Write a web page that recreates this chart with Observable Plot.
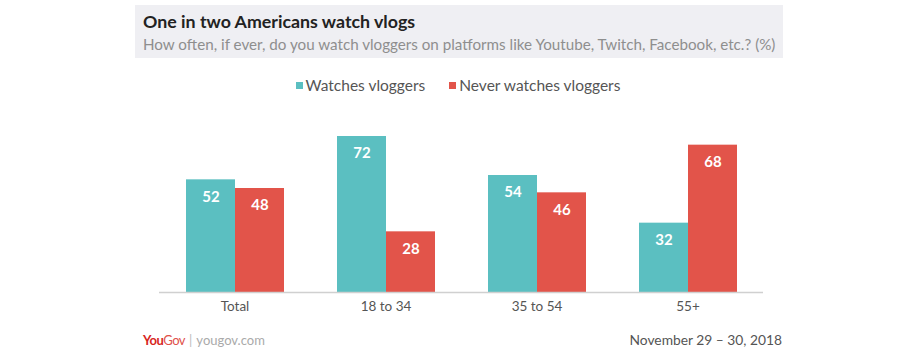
<!DOCTYPE html>
<html>
<head>
<meta charset="utf-8">
<script src="https://cdn.jsdelivr.net/npm/d3@7"></script>
<script src="https://cdn.jsdelivr.net/npm/@observablehq/plot@0.6"></script>
<style>
  html, body { margin: 0; padding: 0; background: #fff; }
  body { width: 916px; height: 356px; position: relative; overflow: hidden; font-family: Lato, "Open Sans", sans-serif; }
  #titlebox { position: absolute; left: 135px; top: 5px; width: 648px; height: 53px; background: #efeff3; }
  #title { position: absolute; left: 8px; top: 5px; font-size: 17.8px; font-weight: 700; color: #222; white-space: nowrap; }
  #subtitle { position: absolute; left: 8px; top: 30px; font-size: 15.2px; color: #8e8e8e; white-space: nowrap; }
  #legend { position: absolute; left: 0; width: 916px; top: 76px; text-align: center; font-size: 15.5px; color: #555; white-space: nowrap; }
  #legend span.item { display: inline-block; margin: 0 12px; }
  #legend span.sw { display: inline-block; width: 7px; height: 7px; margin-right: 3px; vertical-align: 2px; }
  #chart { position: absolute; left: 0; top: 90px; }
  #footer-left { position: absolute; left: 143px; top: 332px; font-size: 13px; white-space: nowrap; }
  #footer-right { position: absolute; right: 134px; top: 331px; font-size: 13.8px; color: #555; white-space: nowrap; }
</style>
</head>
<body>
<div id="titlebox">
  <div id="title">One in two Americans watch vlogs</div>
  <div id="subtitle">How often, if ever, do you watch vloggers on platforms like Youtube, Twitch, Facebook, etc.? (%)</div>
</div>
<div id="legend"></div>
<div id="chart"></div>
<div id="footer-left"><span style="color:#d7261e;font-weight:700;letter-spacing:-0.5px">You</span><span style="color:#e0514a;letter-spacing:-0.5px">Gov</span><span style="color:#bbb;margin:0 4px">|</span><span style="color:#aaa">yougov.com</span></div>
<div id="footer-right">November 29 – 30, 2018</div>
<script>
const groups = ["Total", "18 to 34", "35 to 54", "55+"];
const seriesNames = ["Watches vloggers", "Never watches vloggers"];
const watches = [52, 72, 54, 32];
const never = [48, 28, 46, 68];
const colors = ["#5bbfc1", "#e2544a"];

const data = [];
groups.forEach((g, i) => {
  data.push({group: g, series: seriesNames[0], value: watches[i]});
  data.push({group: g, series: seriesNames[1], value: never[i]});
});

const legend = document.getElementById("legend");
seriesNames.forEach((s, i) => {
  const it = document.createElement("span");
  it.className = "item";
  it.innerHTML = `<span class="sw" style="background:${colors[i]}"></span>${s}`;
  legend.appendChild(it);
});

const chart = Plot.plot({
  width: 916,
  height: 240,
  marginLeft: 158,
  marginRight: 153,
  marginTop: 46,
  marginBottom: 38,
  style: {fontFamily: "Lato, 'Open Sans', sans-serif", background: "transparent"},
  fx: {domain: groups, padding: 0, label: null, axis: "bottom", tickSize: 0, tickPadding: 9},
  x: {domain: seriesNames, paddingInner: 0, paddingOuter: 0.54, axis: null},
  y: {domain: [0, 72], axis: null},
  color: {domain: seriesNames, range: colors},
  marks: [
    Plot.barY(data, {fx: "group", x: "series", y: "value", fill: "series"}),
    Plot.ruleY([0], {stroke: "#d0d0d0", strokeWidth: 1.5}),
    Plot.text(data, {fx: "group", x: "series", y: "value", text: d => String(d.value), dy: 17, fill: "white", fontWeight: 700, fontSize: 15})
  ]
});
const axisG = chart.querySelector("[aria-label='fx-axis tick label']");
if (axisG) { axisG.setAttribute("fill", "#555"); axisG.setAttribute("font-size", "13.5"); }
document.getElementById("chart").appendChild(chart);
</script>
</body>
</html>
